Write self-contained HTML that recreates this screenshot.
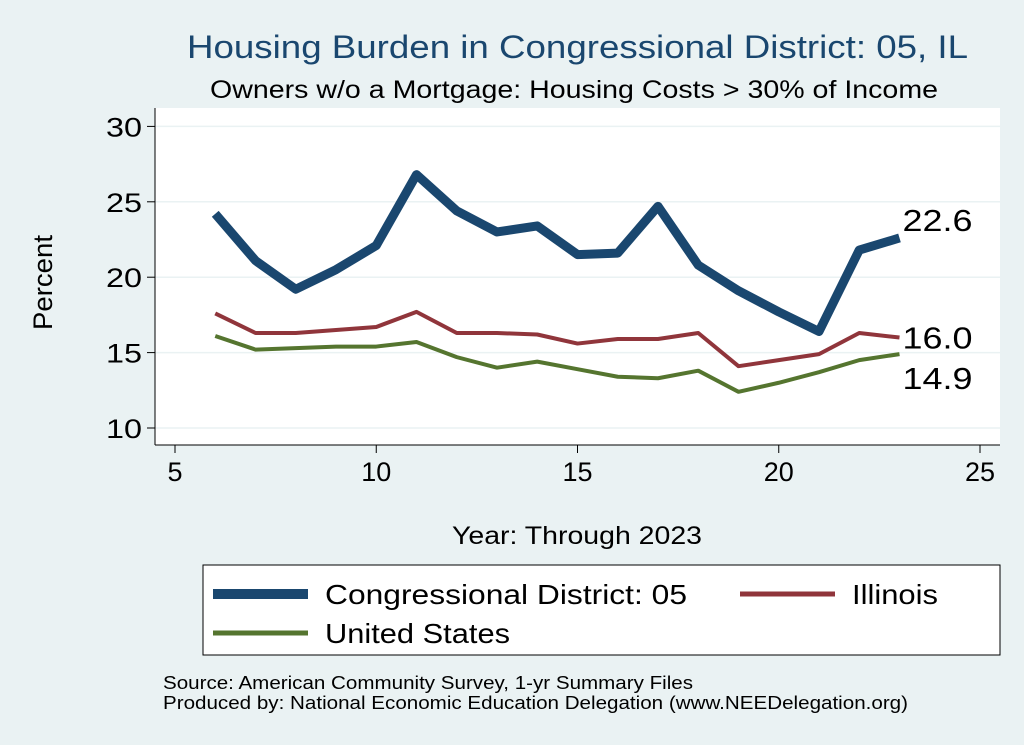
<!DOCTYPE html>
<html><head><meta charset="utf-8"><style>
body{margin:0;background:#eaf2f3;}
svg{display:block;font-family:"Liberation Sans",sans-serif;}
</style></head><body>
<svg id="chart" width="1024" height="745" xml:space="preserve">
<rect width="1024" height="745" fill="#eaf2f3"/>
<text x="187" y="58" font-size="32" fill="#1a476f" textLength="781" lengthAdjust="spacingAndGlyphs">Housing Burden in Congressional District:  05, IL</text>
<text x="210" y="98" font-size="25" fill="#000" textLength="728" lengthAdjust="spacingAndGlyphs">Owners w/o a Mortgage: Housing Costs &gt; 30% of Income</text>
<rect x="155" y="108" width="845" height="337" fill="#fff"/>
<g id="grid"></g><g id="axes"></g><g id="series"></g>
<text x="52" y="330" font-size="27" textLength="95" lengthAdjust="spacingAndGlyphs" transform="rotate(-90 52 330)">Percent</text>
<text x="452" y="544" font-size="25" textLength="250" lengthAdjust="spacingAndGlyphs">Year: Through 2023</text>
<g>
<rect x="203" y="565" width="797" height="90" fill="#fff" stroke="#000" stroke-width="1"/>
<line x1="213" y1="594" x2="308" y2="594" stroke="#1a476f" stroke-width="10"/>
<text x="325" y="604" font-size="28" textLength="362" lengthAdjust="spacingAndGlyphs">Congressional District:  05</text>
<line x1="740" y1="594" x2="835" y2="594" stroke="#90353b" stroke-width="5"/>
<text x="852" y="604" font-size="28" textLength="86" lengthAdjust="spacingAndGlyphs">Illinois</text>
<line x1="213" y1="633" x2="308" y2="633" stroke="#55752f" stroke-width="5"/>
<text x="325" y="643" font-size="28" textLength="185" lengthAdjust="spacingAndGlyphs">United States</text>
</g>
<text x="163" y="689" font-size="18" textLength="530" lengthAdjust="spacingAndGlyphs">Source: American Community Survey, 1-yr Summary Files</text>
<text x="163" y="709" font-size="18" textLength="745" lengthAdjust="spacingAndGlyphs">Produced by: National Economic Education Delegation (www.NEEDelegation.org)</text>
</svg>
<script>
const years=[6,7,8,9,10,11,12,13,14,15,16,17,18,19,20,21,22,23];
const cdValues=[24.2,21.1,19.2,20.5,22.1,26.8,24.4,23.0,23.4,21.5,21.6,24.7,20.8,19.1,17.7,16.4,21.8,22.6];
const ilValues=[17.6,16.3,16.3,16.5,16.7,17.7,16.3,16.3,16.2,15.6,15.9,15.9,16.3,14.1,14.5,14.9,16.3,16.0];
const usValues=[16.1,15.2,15.3,15.4,15.4,15.7,14.7,14.0,14.4,13.9,13.4,13.3,13.8,12.4,13.0,13.7,14.5,14.9];
const xTicks=[5,10,15,20,25];
const yTicks=[10,15,20,25,30];
const NS='http://www.w3.org/2000/svg';
const xs=v=>175+(v-5)*40.25;
const ys=v=>428-(v-10)*15.08;
function mk(tag,attrs,parent){const e=document.createElementNS(NS,tag);for(const k in attrs)e.setAttribute(k,attrs[k]);parent.appendChild(e);return e;}
const grid=document.getElementById('grid'),axes=document.getElementById('axes'),ser=document.getElementById('series');
yTicks.forEach(t=>{
 const g=mk('line',{x1:155,x2:1000,y1:ys(t),y2:ys(t),stroke:'#eaf2f3','stroke-width':1.5},grid);
 
 
 const tk=mk('line',{x1:147,x2:155,y1:ys(t),y2:ys(t),stroke:'#000'},axes);
 
 
 const lb=mk('text',{x:142,y:ys(t)+10,'font-size':27,'text-anchor':'end',textLength:36,lengthAdjust:'spacingAndGlyphs'},axes);
 lb.textContent=t;
 
 
});
xTicks.forEach(t=>{
 const tk=mk('line',{x1:xs(t),x2:xs(t),y1:445,y2:453,stroke:'#000'},axes);
 
 
 const lb=mk('text',{x:xs(t),y:481,'font-size':27,'text-anchor':'middle'},axes);
 lb.textContent=t;
 
 
});
const yl=mk('line',{x1:155,x2:155,y1:108,y2:445,stroke:'#000'},axes);


const xl=mk('line',{x1:155,x2:1000,y1:445,y2:445,stroke:'#000'},axes);


function line(vals,color,w,name,labelDy){
 const p=mk('polyline',{points:vals.map((v,i)=>xs(years[i])+','+ys(v)).join(' '),fill:'none',stroke:color,'stroke-width':w,'stroke-linejoin':'round'},ser);
 
 
 const last=vals[vals.length-1];
 const t=mk('text',{x:xs(years[years.length-1])+3,y:ys(last)+labelDy,'font-size':31,textLength:70,lengthAdjust:'spacingAndGlyphs'},ser);
 t.textContent=last.toFixed(1);
 
 
}
line(usValues,'#55752f',4,'series-us',35);
line(ilValues,'#90353b',4,'series-il',11);
line(cdValues,'#1a476f',9,'series-cd',-7);
</script>
</body></html>
